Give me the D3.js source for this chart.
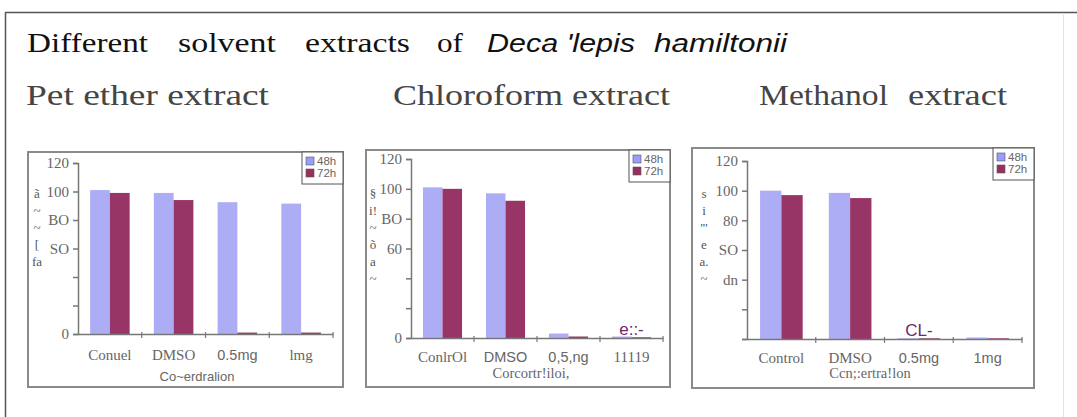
<!DOCTYPE html>
<html><head><meta charset="utf-8">
<script src="https://cdn.jsdelivr.net/npm/d3@7"></script>
<style>body{margin:0;background:#fff}svg{display:block}</style>
</head><body><svg id="c" width="1077" height="417"></svg>
<script>
// ---------- data ----------
const series = ["48h", "72h"];
const panelTitles = ["Pet ether extract", "Chloroform extract", "Methanol extract"];
const petCats = ["Conuel", "DMSO", "0.5mg", "lmg"];
const chlCats = ["ConlrOl", "DMSO", "0,5,ng", "11119"];
const metCats = ["Control", "DMSO", "0.5mg", "1mg"];
const pet48 = [101, 99, 92.5, 91.5];
const pet72 = [99, 94, 1, 1];
const chl48 = [101, 97, 3, 1];
const chl72 = [100, 92, 1, 0.5];
const met48 = [100, 98.5, 0.5, 1];
const met72 = [97, 95, 0.5, 0.5];
const yTicks = [0, 20, 40, 60, 80, 100, 120];
const petYLabels = ["0", "", "", "SO", "BO", "100", "120"];
const chlYLabels = ["0", "", "", "60", "BO", "100", "120"];
const metYLabels = ["", "", "dn", "SO", "80", "100", "120"];
const xTitles = ["Co~erdralion", "Corcortr!iloi,", "Ccn;:ertra!lon"];
// garbled y-axis title glyphs as they appear (stacked), per panel
const petYGlyphs = ["ã", "~", "~", "[", "fa"];
const chlYGlyphs = ["§", "i!", "~", "õ", "a", "~"];
const metYGlyphs = ["s", "i", "'''", "e", "a.", "~"];
// garbled in-plot glyphs
const chlNote = "e::-";
const metNote = "CL-";

// ---------- styles / layout ----------
const colors = {"48h": "#adadf6", "72h": "#983567"};
const legendColors = {"48h": "#9c9cff", "72h": "#9a2f5e"};
const SERIF = "'Liberation Serif','Times New Roman',serif";
const SANS = "'Liberation Sans',Arial,sans-serif";
const xLabelFonts = [
  [SERIF, SERIF, SANS, SERIF],
  [SERIF, SANS, SANS, SERIF],
  [SERIF, SERIF, SANS, SANS]
];
const xTitleFonts = [SANS, SERIF, SERIF];
const layout = [
  {frame: [28, 152, 343, 387], px: [78, 333], py: [334, 163], lblY: 360, titleY: 381, titleX: 197, gx: 37},
  {frame: [366, 150, 670, 387], px: [411, 663], py: [338, 159], lblY: 362, titleY: 378, titleX: 531, gx: 373},
  {frame: [692, 148, 1034, 388], px: [747, 1022], py: [339, 161], lblY: 363, titleY: 378, titleX: 870, gx: 704}
];
const panelData = [
  {cats: petCats, vals: {"48h": pet48, "72h": pet72}, yl: petYLabels, glyphs: petYGlyphs, note: null},
  {cats: chlCats, vals: {"48h": chl48, "72h": chl72}, yl: chlYLabels, glyphs: chlYGlyphs, note: {t: chlNote, cat: 3}},
  {cats: metCats, vals: {"48h": met48, "72h": met72}, yl: metYLabels, glyphs: metYGlyphs, note: {t: metNote, cat: 2}}
];

const svg = d3.select("#c");

// outer frame
svg.append("line").attr("x1", 5).attr("y1", 12.5).attr("x2", 1077).attr("y2", 12.5).attr("stroke", "#555").attr("stroke-width", 1.5);
svg.append("line").attr("x1", 5.5).attr("y1", 12).attr("x2", 5.5).attr("y2", 417).attr("stroke", "#555").attr("stroke-width", 1.5);
svg.append("line").attr("x1", 1063.5).attr("y1", 13).attr("x2", 1063.5).attr("y2", 417).attr("stroke", "#e4e4e4").attr("stroke-width", 1);

// main title
const titleParts = [
  {t: "Different", x: 27, w: 121, f: SERIF, i: false},
  {t: "solvent", x: 178, w: 98, f: SERIF, i: false},
  {t: "extracts", x: 305, w: 105, f: SERIF, i: false},
  {t: "of", x: 437, w: 26, f: SERIF, i: false},
  {t: "Deca 'lepis", x: 487, w: 148, f: SANS, i: true},
  {t: "hamiltonii", x: 654, w: 133, f: SANS, i: true}
];
svg.append("g").selectAll("text").data(titleParts).join("text")
  .attr("x", d => d.x).attr("y", 52)
  .attr("font-family", d => d.f).attr("font-style", d => d.i ? "italic" : "normal")
  .attr("font-size", d => d.i ? 25 : 28).attr("fill", "#111")
  .attr("textLength", d => d.w).attr("lengthAdjust", "spacingAndGlyphs")
  .text(d => d.t);

// panel subtitles
const subParts = [
  {t: "Pet ether extract", x: 26, w: 243},
  {t: "Chloroform extract", x: 393, w: 277},
  {t: "Methanol", x: 759, w: 129},
  {t: "extract", x: 908, w: 99}
];
svg.append("g").selectAll("text").data(subParts).join("text")
  .attr("x", d => d.x).attr("y", 105)
  .attr("font-family", SERIF).attr("font-size", 29).attr("fill", "#454545")
  .attr("textLength", d => d.w).attr("lengthAdjust", "spacingAndGlyphs")
  .text(d => d.t);

panelData.forEach((pd, pi) => {
  const L = layout[pi];
  const g = svg.append("g");
  const [fx0, fy0, fx1, fy1] = L.frame;
  g.append("rect").attr("x", fx0).attr("y", fy0).attr("width", fx1 - fx0).attr("height", fy1 - fy0)
    .attr("fill", "#fff").attr("stroke", "#8a8a8a").attr("stroke-width", 2);

  const x = d3.scaleBand().domain(pd.cats).range(L.px);
  const bw = x.bandwidth();
  const y = d3.scaleLinear().domain([0, 120]).range(L.py);

  // bars
  pd.cats.forEach((c, ci) => {
    const inner = d3.scaleBand().domain(series)
      .range([x(c) + bw * 0.19, x(c) + bw * 0.81]);
    series.forEach(s => {
      const v = pd.vals[s][ci];
      g.append("rect").attr("x", inner(s)).attr("width", inner.bandwidth())
        .attr("y", y(v)).attr("height", y(0) - y(v)).attr("fill", colors[s]);
    });
  });

  // y axis
  const ya = d3.axisLeft(y).tickValues(yTicks).tickSize(5).tickPadding(4)
    .tickFormat((d, i) => pd.yl[i]);
  const yg = g.append("g").attr("transform", `translate(${L.px[0]},0)`).call(ya);
  yg.select(".domain").attr("stroke", "#777").attr("stroke-width", 1.5);
  yg.selectAll(".tick line").attr("stroke", "#777").attr("stroke-width", 1.5);
  yg.selectAll("text").attr("font-family", SERIF).attr("font-size", 15).attr("fill", "#666");

  // garbled y-title glyphs, stacked vertically left of the tick labels
  g.selectAll(".yg").data(pd.glyphs).join("text")
    .attr("x", L.gx).attr("y", (d, i) => 198 + i * 17).attr("text-anchor", "middle")
    .attr("font-family", SERIF).attr("font-size", 13)
    .attr("fill", "#555").text(d => d);

  // x axis
  const xa = d3.axisBottom(x).tickSize(0).tickFormat(() => "");
  const xg = g.append("g").attr("transform", `translate(0,${L.py[0]})`).call(xa);
  xg.select(".domain").attr("stroke", "#777").attr("stroke-width", 1.5);
  const bounds = pd.cats.map(c => x(c) + bw);
  g.selectAll(".xb").data(bounds).join("line")
    .attr("x1", d => d).attr("x2", d => d)
    .attr("y1", L.py[0] - 2).attr("y2", L.py[0] + 4)
    .attr("stroke", "#777").attr("stroke-width", 1.2);
  g.selectAll(".xl").data(pd.cats).join("text")
    .attr("x", d => x(d) + bw / 2).attr("y", L.lblY)
    .attr("text-anchor", "middle")
    .attr("font-family", (d, i) => xLabelFonts[pi][i])
    .attr("font-size", (d, i) => xLabelFonts[pi][i] === SANS ? 14.5 : 15)
    .attr("fill", "#666").text(d => d);
  g.append("text").attr("x", L.titleX).attr("y", L.titleY).attr("text-anchor", "middle")
    .attr("font-family", xTitleFonts[pi]).attr("font-size", xTitleFonts[pi] === SANS ? 13 : 14.5)
    .attr("fill", "#666").text(xTitles[pi]);

  // in-plot garbled note
  if (pd.note) {
    g.append("text").attr("x", x(pd.cats[pd.note.cat]) + bw / 2).attr("y", L.py[0] - 3)
      .attr("text-anchor", "middle").attr("font-family", SANS).attr("font-size", 17)
      .attr("fill", "#6b2a6b").text(pd.note.t);
  }

  // legend
  const lw = 41, lh = 32;
  const lx = fx1 - lw, ly = fy0;
  const lg = g.append("g");
  lg.append("rect").attr("x", lx).attr("y", ly).attr("width", lw).attr("height", lh)
    .attr("fill", "#fff").attr("stroke", "#555").attr("stroke-width", 1);
  series.forEach((s, si) => {
    lg.append("rect").attr("x", lx + 4).attr("y", ly + 5 + si * 12).attr("width", 8).attr("height", 8)
      .attr("fill", legendColors[s]).attr("stroke", "#555").attr("stroke-width", 0.6);
    lg.append("text").attr("x", lx + 15).attr("y", ly + 13 + si * 12)
      .attr("font-family", SANS).attr("font-size", 11.5).attr("fill", "#666").text(s);
  });
});
</script></body></html>
